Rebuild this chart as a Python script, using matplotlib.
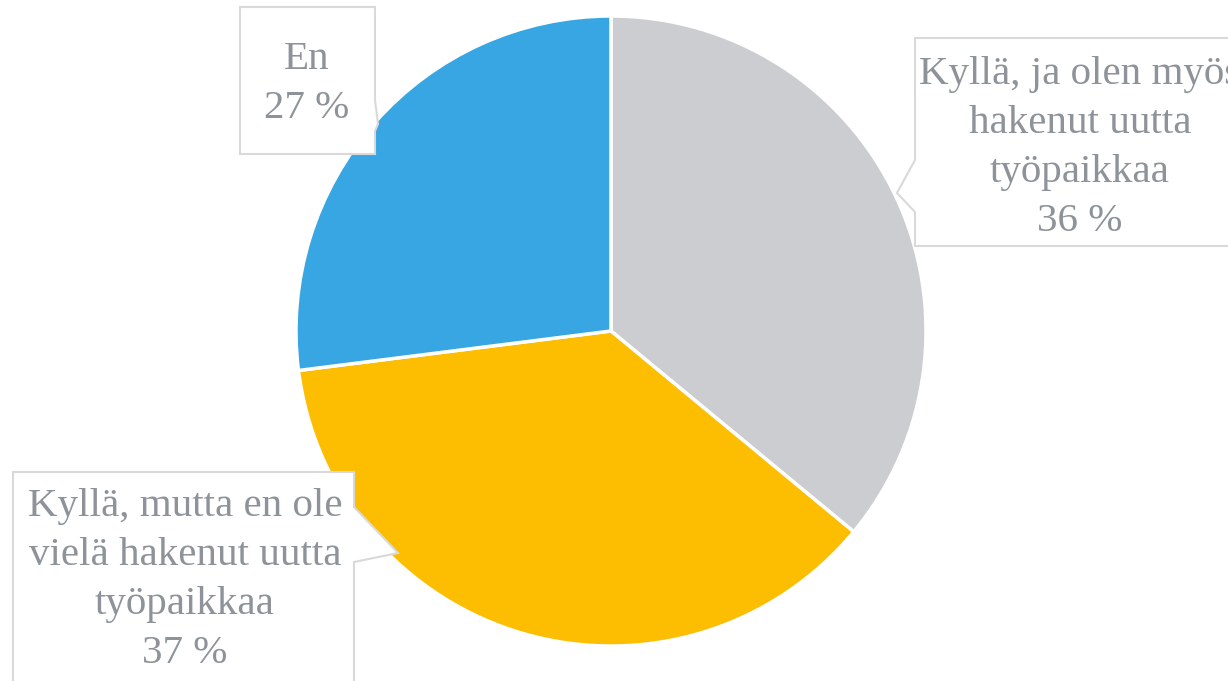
import matplotlib
matplotlib.use("Agg")
import matplotlib.pyplot as plt
from matplotlib.patches import Polygon

labels = ["Kyllä, ja olen myös\nhakenut uutta\ntyöpaikkaa", "Kyllä, mutta en ole\nvielä hakenut uutta\ntyöpaikkaa", "En"]
values = [36, 37, 27]
colors = ["#CCCDD1", "#FDBD00", "#37A6E2"]

W, H = 1228, 681
fig = plt.figure(figsize=(W / 100, H / 100), dpi=100)
ax = fig.add_axes([0, 0, 1, 1])
ax.pie(values, colors=colors, startangle=90, counterclock=False,
       center=(611, H - 331), radius=315,
       wedgeprops=dict(edgecolor="white", linewidth=2.5))
ax.set_xlim(0, W)
ax.set_ylim(0, H)
ax.set_aspect("auto")
ax.axis("off")

def Y(y):
    return H - y

# callout boxes (pixel layout, y from top)
boxes = [
    [(915, 38), (1240, 38), (1240, 246), (915, 246), (915, 212), (897, 193), (915, 160)],
    [(13, 472), (354, 472), (354, 507), (398, 553), (354, 562), (354, 700), (13, 700)],
    [(240, 7), (375, 7), (375, 100), (378, 124), (375, 131), (375, 154), (240, 154)],
]
for b in boxes:
    ax.add_patch(Polygon([(x, Y(y)) for x, y in b], closed=True, facecolor="white",
                         edgecolor="#D9D9D9", linewidth=1.5, zorder=3))

text_pos = [(1080, 148), (185, 580), (307, 84)]
for lab, v, (x, y) in zip(labels, values, text_pos):
    ax.text(x, Y(y), f"{lab}\n{v} %", ha="center", va="center", fontsize=29.5,
            family="Liberation Serif", color="#8E939A", linespacing=1.42, zorder=4)

fig.savefig("out.png", dpi=100)
